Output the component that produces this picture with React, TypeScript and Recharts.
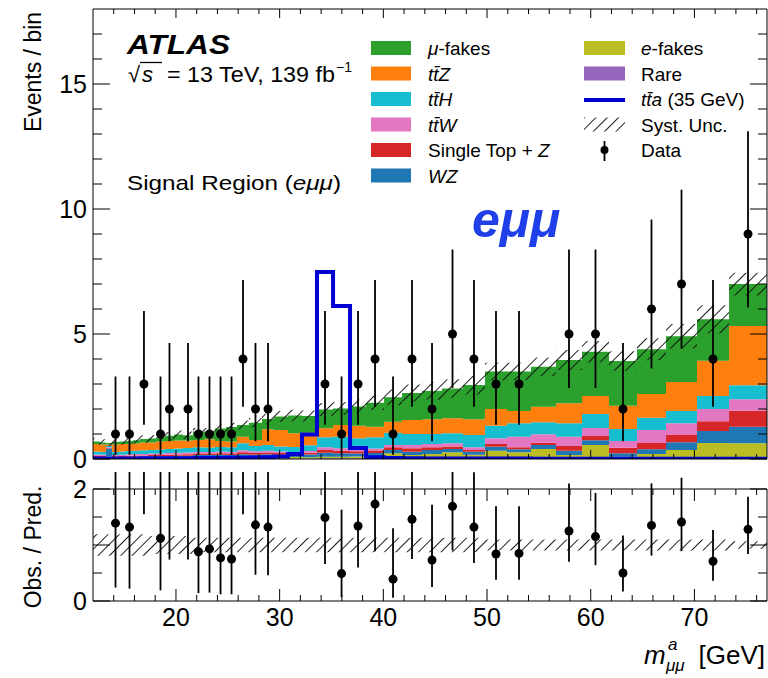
import React from "react";
import { ComposedChart, Area, Line, Scatter, XAxis, YAxis, ErrorBar } from "recharts";

const FONT = "'Liberation Sans', Arial, Helvetica, sans-serif";

// bin edges of m_{μμ}^a [GeV]
const binEdges = [12.0, 12.68, 13.25, 13.83, 14.51, 15.18, 15.86, 16.53, 17.3, 18.08, 18.94, 19.81, 20.68, 21.64, 22.7, 23.77, 24.83, 25.89, 27.04, 28.3, 29.46, 30.81, 32.16, 33.6, 35.15, 36.79, 38.33, 40.07, 41.8, 43.73, 45.66, 47.68, 49.8, 51.93, 54.24, 56.65, 59.16, 61.76, 64.46, 67.26, 70.25, 73.34, 77.0];

// background components (events per bin), stacked bottom to top
const rare = [0.02, 0.02, 0.02, 0.02, 0.02, 0.02, 0.02, 0.02, 0.02, 0.02, 0.02, 0.02, 0.02, 0.02, 0.02, 0.02, 0.02, 0.02, 0.02, 0.02, 0.02, 0.02, 0.02, 0.03, 0.03, 0.03, 0.03, 0.03, 0.03, 0.03, 0.03, 0.03, 0.04, 0.04, 0.04, 0.04, 0.04, 0.04, 0.04, 0.04, 0.04, 0.04];
const eFakes = [0.02, 0.02, 0.08, 0.01, 0.02, 0.03, 0.03, 0.02, 0.03, 0.03, 0.04, 0.04, 0.04, 0.07, 0.06, 0.06, 0.05, 0.06, 0.05, 0.07, 0.08, 0.06, 0.05, 0.06, 0.06, 0.07, 0.09, 0.2, 0.13, 0.17, 0.24, 0.14, 0.29, 0.23, 0.36, 0.12, 0.52, 0.05, 0.16, 0.32, 0.6, 0.59];
const wz = [0.04, 0.04, 0.32, 0.04, 0.04, 0.04, 0.05, 0.06, 0.06, 0.06, 0.06, 0.07, 0.07, 0.07, 0.08, 0.09, 0.09, 0.11, 0.1, 0.1, 0.08, 0.08, 0.11, 0.16, 0.14, 0.12, 0.12, 0.13, 0.13, 0.16, 0.13, 0.12, 0.16, 0.12, 0.16, 0.17, 0.19, 0.14, 0.19, 0.31, 0.48, 0.66];
const singleTopZ = [0.04, 0.04, 0.02, 0.04, 0.04, 0.04, 0.04, 0.04, 0.05, 0.05, 0.05, 0.05, 0.06, 0.06, 0.06, 0.06, 0.06, 0.08, 0.07, 0.07, 0.06, 0.06, 0.07, 0.11, 0.1, 0.09, 0.1, 0.11, 0.14, 0.11, 0.1, 0.07, 0.11, 0.08, 0.09, 0.19, 0.17, 0.22, 0.25, 0.29, 0.39, 0.64];
const ttW = [0.06, 0.05, 0.03, 0.05, 0.05, 0.06, 0.06, 0.06, 0.06, 0.06, 0.07, 0.07, 0.07, 0.06, 0.06, 0.07, 0.07, 0.08, 0.07, 0.07, 0.06, 0.06, 0.07, 0.11, 0.1, 0.08, 0.08, 0.09, 0.13, 0.13, 0.13, 0.11, 0.23, 0.42, 0.34, 0.37, 0.32, 0.27, 0.52, 0.47, 0.49, 0.46];
const ttH = [0.12, 0.11, 0.05, 0.12, 0.13, 0.13, 0.13, 0.15, 0.14, 0.16, 0.16, 0.17, 0.18, 0.19, 0.18, 0.18, 0.18, 0.28, 0.21, 0.23, 0.2, 0.2, 0.23, 0.4, 0.46, 0.44, 0.45, 0.49, 0.44, 0.4, 0.4, 0.49, 0.5, 0.54, 0.48, 0.54, 0.56, 0.48, 0.49, 0.49, 0.52, 0.56];
const ttZ = [0.3, 0.3, 0.06, 0.3, 0.3, 0.28, 0.29, 0.31, 0.3, 0.32, 0.32, 0.32, 0.3, 0.29, 0.33, 0.24, 0.23, 0.26, 0.24, 0.63, 0.66, 0.55, 0.5, 0.36, 0.47, 0.5, 0.42, 0.44, 0.56, 0.59, 0.6, 0.63, 0.67, 0.49, 0.62, 0.8, 0.72, 0.93, 0.95, 1.16, 1.41, 2.37];
const muFakes = [0.1, 0.08, 0.06, 0.1, 0.1, 0.12, 0.13, 0.14, 0.16, 0.17, 0.21, 0.24, 0.21, 0.34, 0.31, 0.5, 0.58, 0.47, 0.69, 0.41, 0.54, 0.71, 0.67, 0.75, 0.66, 0.77, 0.96, 0.98, 1.08, 1.13, 1.19, 1.37, 1.5, 1.58, 1.6, 1.73, 1.77, 1.79, 1.79, 1.83, 1.66, 1.68];

// signal tta (35 GeV)
const signalTta = [0.02, 0.02, 0.02, 0.02, 0.02, 0.02, 0.02, 0.03, 0.03, 0.03, 0.03, 0.03, 0.03, 0.04, 0.04, 0.04, 0.05, 0.05, 0.06, 0.07, 0.1, 0.2, 0.98, 7.48, 6.12, 0.44, 0.07, 0.04, 0.03, 0.02, 0.02, 0.02, 0.02, 0.02, 0.01, 0.01, 0.01, 0.01, 0.01, 0.01, 0.01, 0.01];

// relative systematic uncertainty per bin
const systRel = [0.19, 0.19, 0.19, 0.19, 0.19, 0.19, 0.19, 0.19, 0.16, 0.16, 0.16, 0.16, 0.16, 0.13, 0.13, 0.13, 0.13, 0.13, 0.13, 0.13, 0.13, 0.13, 0.13, 0.13, 0.13, 0.13, 0.13, 0.13, 0.13, 0.13, 0.13, 0.13, 0.1, 0.1, 0.1, 0.1, 0.1, 0.1, 0.1, 0.1, 0.1, 0.065];

// observed data
const dataCounts = [0, 0, 0, 1, 0, 1, 0, 3, 0, 1, 2, 0, 2, 1, 1, 1, 1, 4, 2, 2, 0, 0, 0, 3, 1, 3, 4, 1, 4, 2, 5, 4, 3, 3, 0, 5, 5, 2, 6, 7, 4, 9];
const dataErrLow = [0, 0, 0, 0.83, 0, 0.83, 0, 1.63, 0, 0.83, 1.29, 0, 1.29, 0.83, 0.83, 0.83, 0.83, 1.91, 1.29, 1.29, 0, 0, 0, 1.63, 0.83, 1.63, 1.91, 0.83, 1.91, 1.29, 2.16, 1.91, 1.63, 1.63, 0, 2.16, 2.16, 1.29, 2.38, 2.58, 1.91, 2.94];
const dataErrHigh = [0, 0, 0, 2.3, 0, 2.3, 0, 2.92, 0, 2.3, 2.64, 0, 2.64, 2.3, 2.3, 2.3, 2.3, 3.16, 2.64, 2.64, 0, 0, 0, 2.92, 2.3, 2.92, 3.16, 2.3, 3.16, 2.64, 3.38, 3.16, 2.92, 2.92, 0, 3.38, 3.38, 2.64, 3.58, 3.77, 3.16, 4.11];

// Obs. / Pred.
const ratioValues = [null, null, null, 1.39, null, 1.32, null, 3.75, null, 1.12, 2.15, null, 2.1, 0.88, 0.93, 0.77, 0.75, 2.94, 1.36, 1.32, null, null, null, 1.49, 0.49, 1.34, 1.73, 0.39, 1.46, 0.73, 1.69, 1.32, 0.84, 0.85, null, 1.25, 1.15, 0.5, 1.35, 1.41, 0.71, 1.28];
const ratioBarLow = [0, 0, 0, 0.24, 0, 0.22, 0, 1.55, 0, 0.19, 0.74, 0, 0.74, 0.14, 0.15, 0.12, 0.12, 1.55, 0.47, 0.46, 0, 0, 0, 0.66, 0.07, 0.6, 0.89, 0.06, 0.75, 0.25, 0.9, 0.68, 0.38, 0.38, 0, 0.7, 0.64, 0.17, 0.81, 0.89, 0.36, 0.84];
const ratioBarHigh = [0, 0, 0, 4.6, 0, 4.4, 0, 7.6, 0, 3.7, 4.9, 0, 4.9, 3.0, 3.1, 2.6, 2.6, 5.3, 3.2, 3.1, 0, 0, 0, 2.9, 1.63, 2.7, 3.1, 1.3, 2.6, 1.72, 2.8, 2.3, 1.69, 1.69, 0, 2.1, 1.93, 1.17, 2.1, 2.2, 1.27, 1.86];

const xTicks = [14, 16, 18, 20, 22, 24, 26, 28, 30, 32, 34, 36, 38, 40, 42, 44, 46, 48, 50, 52, 54, 56, 58, 60, 62, 64, 66, 68, 70, 72, 74, 76];
const yTicksMain = [0, 1, 2, 3, 4, 5, 6, 7, 8, 9, 10, 11, 12, 13, 14, 15, 16, 17];
const yLabelsMain = [0, 5, 10, 15];
const yTicksRatio = [0, 0.5, 1, 1.5, 2];
const yLabelsRatio = [0, 2];

const COLORS = {
  muFakes: "#2ca02c",
  ttZ: "#ff7f0e",
  ttH: "#17becf",
  ttW: "#e377c2",
  singleTopZ: "#d62728",
  wz: "#1f77b4",
  eFakes: "#bcbd22",
  rare: "#9467bd",
  signal: "#0000d2",
};

const stackOrder: [string, number[]][] = [
  ["rare", rare],
  ["eFakes", eFakes],
  ["wz", wz],
  ["singleTopZ", singleTopZ],
  ["ttW", ttW],
  ["ttH", ttH],
  ["ttZ", ttZ],
  ["muFakes", muFakes],
];

const nBins = binEdges.length - 1;

const mainRows = binEdges.map((x, i) => {
  const b = Math.min(i, nBins - 1);
  const row: any = { x, signal: signalTta[b] };
  let total = 0;
  stackOrder.forEach(([k, arr]) => {
    row[k] = arr[b];
    total += arr[b];
  });
  row.band = [total * (1 - systRel[b]), total * (1 + systRel[b])];
  return row;
});

const ratioRows = binEdges.map((x, i) => {
  const b = Math.min(i, nBins - 1);
  return { x, band: [1 - systRel[b], 1 + systRel[b]] };
});

const centers = binEdges.slice(0, -1).map((e, i) => (e + binEdges[i + 1]) / 2);

const dataPoints = dataCounts
  .map((n, i) => ({ x: centers[i], y: n, err: [dataErrLow[i], dataErrHigh[i]] }))
  .filter((p) => p.y > 0);

const ratioPoints = ratioValues
  .map((r, i) =>
    r == null ? null : { x: centers[i], y: r, err: [r - ratioBarLow[i], ratioBarHigh[i] - r] }
  )
  .filter(Boolean) as any[];

const mkXTick = (dir: number, major: number, minor: number, labelDy: number | null) => (props: any) => {
  const { x, y, payload } = props;
  const v = payload.value;
  const isMajor = Math.abs(v % 10) < 1e-6;
  const len = isMajor ? major : minor;
  return (
    <g>
      <line x1={x} x2={x} y1={y} y2={y + dir * len} stroke="#000" strokeWidth={1} />
      {labelDy != null && isMajor ? (
        <text x={x} y={y + labelDy} textAnchor="middle" fontSize={25} fontFamily={FONT} fill="#000">
          {v}
        </text>
      ) : null}
    </g>
  );
};

const mkYTick = (dir: number, majorStep: number, major: number, minor: number, labels: number[] | null) => (props: any) => {
  const { x, y, payload } = props;
  const v = payload.value;
  const isMajor = Math.abs(v / majorStep - Math.round(v / majorStep)) < 1e-6;
  const len = isMajor ? major : minor;
  return (
    <g>
      <line x1={x} x2={x + dir * len} y1={y} y2={y} stroke="#000" strokeWidth={1} />
      {labels && labels.includes(v) ? (
        <text x={x - 6} y={y} dy="0.34em" textAnchor="end" fontSize={25} fontFamily={FONT} fill="#000">
          {v}
        </text>
      ) : null}
    </g>
  );
};

const dotShape = (props: any) => {
  const { cx, cy } = props;
  return <circle cx={cx} cy={cy} r={4.5} fill="#000" />;
};

const ratioDot = (props: any) => {
  const { cx, cy, payload } = props;
  if (payload && payload.y > 2) return <g />;
  return <circle cx={cx} cy={cy} r={4.5} fill="#000" />;
};

const tbar = "t\u0304";

const legendLeft = [
  { key: "muFakes", label: <><tspan fontStyle="italic">μ</tspan>-fakes</> },
  { key: "ttZ", label: <tspan fontStyle="italic">t{tbar}Z</tspan> },
  { key: "ttH", label: <tspan fontStyle="italic">t{tbar}H</tspan> },
  { key: "ttW", label: <tspan fontStyle="italic">t{tbar}W</tspan> },
  { key: "singleTopZ", label: <>Single Top + <tspan fontStyle="italic">Z</tspan></> },
  { key: "wz", label: <tspan fontStyle="italic">WZ</tspan> },
];
const legendRowsY = [48, 73.5, 99, 124.5, 150, 175.5];

export default function App() {
  const axisCommon = {
    type: "number" as const,
    allowDataOverflow: true,
    interval: 0 as const,
    tickSize: 0,
    tickMargin: 0,
    tickLine: false,
    axisLine: { stroke: "#000", strokeWidth: 1 },
  };
  return (
    <div style={{ position: "absolute", left: 0, top: 0, width: 768, height: 678, background: "#fff" }}>
      <div style={{ position: "absolute", left: 0, top: 0 }}>
        <ComposedChart width={768} height={472} data={mainRows} margin={{ top: 8, right: 0, bottom: 0, left: 0 }}>
          <XAxis {...axisCommon} xAxisId="b" dataKey="x" orientation="bottom" domain={[12, 77]} ticks={xTicks} height={13} tick={mkXTick(-1, 9, 5, null)} />
          <XAxis {...axisCommon} xAxisId="t" dataKey="x" orientation="top" domain={[12, 77]} ticks={xTicks} height={1} tick={mkXTick(1, 9, 5, null)} />
          <YAxis {...axisCommon} yAxisId="l" orientation="left" domain={[0, 18]} ticks={yTicksMain} width={93} tick={mkYTick(1, 5, 17, 9, yLabelsMain)} />
          <YAxis {...axisCommon} yAxisId="r" orientation="right" domain={[0, 18]} ticks={yTicksMain} width={1} tick={mkYTick(-1, 5, 17, 9, null)} />
          {stackOrder.map(([k]) => (
            <Area
              key={k}
              xAxisId="b"
              yAxisId="l"
              stackId="bkg"
              dataKey={k}
              type="stepAfter"
              fill={(COLORS as any)[k]}
              fillOpacity={1}
              stroke="none"
              dot={false}
              activeDot={false}
              isAnimationActive={false}
            />
          ))}
          <Area xAxisId="b" yAxisId="l" dataKey="band" type="stepAfter" fill="url(#hatchPat)" fillOpacity={1} stroke="none" dot={false} activeDot={false} isAnimationActive={false} />
          <Line xAxisId="b" yAxisId="l" dataKey="signal" type="stepAfter" stroke={COLORS.signal} strokeWidth={4} dot={false} activeDot={false} isAnimationActive={false} />
          <Scatter xAxisId="b" yAxisId="l" data={dataPoints} dataKey="y" shape={dotShape} isAnimationActive={false}>
            <ErrorBar dataKey="err" direction="y" width={0} stroke="#000" strokeWidth={1.8} />
          </Scatter>
        </ComposedChart>
      </div>
      <div style={{ position: "absolute", left: 0, top: 472 }}>
        <ComposedChart width={768} height={206} data={ratioRows} margin={{ top: 16, right: 0, bottom: 0, left: 0 }}>
          <XAxis {...axisCommon} xAxisId="b" dataKey="x" orientation="bottom" domain={[12, 77]} ticks={xTicks} height={77} tick={mkXTick(-1, 12, 6, 25)} />
          <XAxis {...axisCommon} xAxisId="t" dataKey="x" orientation="top" domain={[12, 77]} ticks={xTicks} height={1} tick={mkXTick(1, 12, 6, null)} />
          <YAxis {...axisCommon} yAxisId="l" orientation="left" domain={[0, 2]} ticks={yTicksRatio} width={93} tick={mkYTick(1, 1, 17, 9, yLabelsRatio)} />
          <YAxis {...axisCommon} yAxisId="r" orientation="right" domain={[0, 2]} ticks={yTicksRatio} width={1} tick={mkYTick(-1, 1, 17, 9, null)} />
          <Area xAxisId="b" yAxisId="l" dataKey="band" type="stepAfter" fill="url(#hatchPat)" fillOpacity={1} stroke="none" dot={false} activeDot={false} isAnimationActive={false} />
          <Scatter xAxisId="b" yAxisId="l" data={ratioPoints} dataKey="y" shape={ratioDot} isAnimationActive={false}>
            <ErrorBar dataKey="err" direction="y" width={0} stroke="#000" strokeWidth={1.8} />
          </Scatter>
        </ComposedChart>
      </div>
      <svg width={768} height={678} style={{ position: "absolute", left: 0, top: 0, pointerEvents: "none" }} fontFamily={FONT}>
        <defs>
          <pattern id="hatchPat" patternUnits="userSpaceOnUse" width={8} height={8} patternTransform="rotate(45)">
            <line x1={0} y1={0} x2={0} y2={8} stroke="#111" strokeWidth={1.9} />
          </pattern>
        </defs>
        {/* axis titles */}
        <text transform="translate(41,72) rotate(-90)" textAnchor="middle" fontSize={23} fill="#000">Events / bin</text>
        <text transform="translate(41,547) rotate(-90)" textAnchor="middle" fontSize={23} fill="#000">Obs. / Pred.</text>
        <text x={644} y={664} fontSize={26} fontStyle="italic" fill="#000">m</text>
        <text x={668} y={650} fontSize={17} fontStyle="italic" fill="#000">a</text>
        <text x={666} y={671} fontSize={17} fontStyle="italic" fill="#000">μμ</text>
        <text x={765} y={664} fontSize={26} textAnchor="end" fill="#000">[GeV]</text>
        {/* ATLAS label */}
        <text x={127} y={54} fontSize={28} fontWeight="bold" fontStyle="italic" textLength={103} lengthAdjust="spacingAndGlyphs" fill="#000">ATLAS</text>
        <text x={128} y={82} fontSize={22} fill="#000">√</text>
        <line x1={140} x2={162} y1={62.5} y2={62.5} stroke="#000" strokeWidth={1.3} />
        <text x={142} y={82} fontSize={22} fontStyle="italic" fill="#000">s</text>
        <text x={167} y={82} fontSize={22} textLength={168} lengthAdjust="spacingAndGlyphs" fill="#000">= 13 TeV, 139 fb</text>
        <text x={336} y={72} fontSize={14} fill="#000">−1</text>
        <text x={127} y={190} fontSize={21} textLength={214} lengthAdjust="spacingAndGlyphs" fill="#000">
          Signal Region (<tspan fontStyle="italic">eμμ</tspan>)
        </text>
        <text x={472} y={237} fontSize={50} fontWeight="bold" fontStyle="italic" fill="#1f3fe8">eμμ</text>
        {/* legend column 1 */}
        {legendLeft.map((it, i) => (
          <g key={it.key}>
            <rect x={371} y={legendRowsY[i] - 7} width={40} height={14} fill={(COLORS as any)[it.key]} />
            <text x={428} y={legendRowsY[i] + 7} fontSize={19} fill="#000">{it.label}</text>
          </g>
        ))}
        {/* legend column 2 */}
        <rect x={584} y={legendRowsY[0] - 7} width={41} height={14} fill={COLORS.eFakes} />
        <text x={641} y={legendRowsY[0] + 7} fontSize={19} fill="#000"><tspan fontStyle="italic">e</tspan>-fakes</text>
        <rect x={584} y={legendRowsY[1] - 7} width={41} height={14} fill={COLORS.rare} />
        <text x={641} y={legendRowsY[1] + 7} fontSize={19} fill="#000">Rare</text>
        <line x1={584} x2={625} y1={legendRowsY[2] + 1} y2={legendRowsY[2] + 1} stroke={COLORS.signal} strokeWidth={4} />
        <text x={641} y={legendRowsY[2] + 7} fontSize={19} fill="#000"><tspan fontStyle="italic">t{tbar}a</tspan> (35 GeV)</text>
        <rect x={584} y={legendRowsY[3] - 7} width={41} height={14} fill="url(#hatchPat)" />
        <text x={641} y={legendRowsY[3] + 7} fontSize={19} fill="#000">Syst. Unc.</text>
        <line x1={604.5} x2={604.5} y1={legendRowsY[4] - 9} y2={legendRowsY[4] + 11} stroke="#000" strokeWidth={1.8} />
        <circle cx={604.5} cy={legendRowsY[4]} r={4} fill="#000" />
        <text x={641} y={legendRowsY[4] + 7} fontSize={19} fill="#000">Data</text>
      </svg>
    </div>
  );
}
